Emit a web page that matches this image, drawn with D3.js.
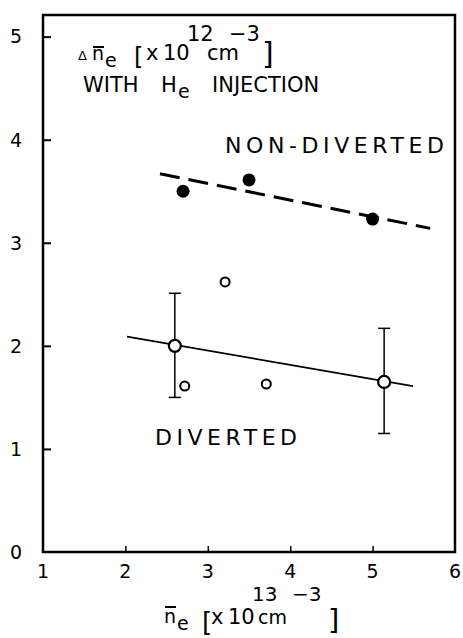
<!DOCTYPE html>
<html>
<head>
<meta charset="utf-8">
<script src="https://cdn.jsdelivr.net/npm/d3@7"></script>
<style>
  html, body { margin: 0; padding: 0; background: #fff; }
  svg { display: block; font-family: "DejaVu Sans", sans-serif; }
</style>
</head>
<body>
<div id="chart"></div>
<script>
// axis ticks
const xTicks = [1, 2, 3, 4, 5, 6];
const yTicks = [0, 1, 2, 3, 4, 5];

// non-diverted (filled dots) and its dashed fit
const nonDivX = [2.7, 3.5, 5.0];
const nonDivY = [3.5, 3.61, 3.23];
const nonDivFitX = [2.42, 5.7];
const nonDivFitY = [3.67, 3.14];

// diverted: averaged points with error bars, single shots, solid fit
const divMeanX = [2.6, 5.14];
const divMeanY = [2.0, 1.65];
const divErrLow = [1.5, 1.15];
const divErrHigh = [2.51, 2.17];
const divShotX = [3.21, 2.72, 3.71];
const divShotY = [2.62, 1.61, 1.63];
const divFitX = [2.02, 5.49];
const divFitY = [2.09, 1.61];

const width = 463, height = 638;
const margin = { top: 15, right: 8, bottom: 86, left: 43 };

const svg = d3.select("#chart").append("svg")
    .attr("width", width)
    .attr("height", height);

const x = d3.scaleLinear().domain([1, 6]).range([margin.left, width - margin.right]);
const y = d3.scaleLinear().domain([0, 5.21]).range([height - margin.bottom, margin.top]);

// frame
svg.append("rect")
    .attr("x", x(1)).attr("y", y(5.21))
    .attr("width", x(6) - x(1)).attr("height", y(0) - y(5.21))
    .attr("fill", "none").attr("stroke", "#000").attr("stroke-width", 2.5);

// inner ticks
svg.append("g")
    .attr("transform", `translate(${x(1)},0)`)
    .call(d3.axisRight(y).tickValues(yTicks.slice(1)).tickSize(8).tickFormat(""))
    .call(g => g.select(".domain").remove())
    .selectAll("line").attr("stroke-width", 2);

svg.append("g")
    .attr("transform", `translate(0,${y(0)})`)
    .call(d3.axisTop(x).tickValues(xTicks.slice(1, -1)).tickSize(6).tickFormat(""))
    .call(g => g.select(".domain").remove())
    .selectAll("line").attr("stroke-width", 1.5);

// tick labels
svg.append("g").selectAll("text")
    .data(yTicks).enter().append("text")
    .attr("x", 16)
    .attr("y", d => y(d))
    .attr("dy", "0.36em")
    .attr("text-anchor", "middle")
    .attr("font-size", 19)
    .text(d => d);

svg.append("g").selectAll("text")
    .data(xTicks).enter().append("text")
    .attr("x", d => x(d))
    .attr("y", 578)
    .attr("text-anchor", "middle")
    .attr("font-size", 19)
    .text(d => d);

// fit lines
const line = d3.line().x(d => x(d[0])).y(d => y(d[1]));

svg.append("path")
    .datum(d3.zip(nonDivFitX, nonDivFitY))
    .attr("d", line)
    .attr("fill", "none").attr("stroke", "#000")
    .attr("stroke-width", 3)
    .attr("stroke-dasharray", "20,9");

svg.append("path")
    .datum(d3.zip(divFitX, divFitY))
    .attr("d", line)
    .attr("fill", "none").attr("stroke", "#000")
    .attr("stroke-width", 1.8);

// error bars
const err = d3.zip(divMeanX, divErrLow, divErrHigh);
const eb = svg.append("g").attr("stroke", "#000").attr("stroke-width", 1.5);
eb.selectAll(".v").data(err).enter().append("line")
    .attr("x1", d => x(d[0])).attr("x2", d => x(d[0]))
    .attr("y1", d => y(d[1])).attr("y2", d => y(d[2]));
eb.selectAll(".lo").data(err).enter().append("line")
    .attr("x1", d => x(d[0]) - 6).attr("x2", d => x(d[0]) + 6)
    .attr("y1", d => y(d[1])).attr("y2", d => y(d[1]));
eb.selectAll(".hi").data(err).enter().append("line")
    .attr("x1", d => x(d[0]) - 6).attr("x2", d => x(d[0]) + 6)
    .attr("y1", d => y(d[2])).attr("y2", d => y(d[2]));

// points
svg.append("g").selectAll("circle")
    .data(d3.zip(divMeanX, divMeanY)).enter().append("circle")
    .attr("cx", d => x(d[0])).attr("cy", d => y(d[1]))
    .attr("r", 6)
    .attr("fill", "#fff").attr("stroke", "#000").attr("stroke-width", 2.2);

svg.append("g").selectAll("circle")
    .data(d3.zip(divShotX, divShotY)).enter().append("circle")
    .attr("cx", d => x(d[0])).attr("cy", d => y(d[1]))
    .attr("r", 4.5)
    .attr("fill", "#fff").attr("stroke", "#000").attr("stroke-width", 2);

svg.append("g").selectAll("circle")
    .data(d3.zip(nonDivX, nonDivY)).enter().append("circle")
    .attr("cx", d => x(d[0])).attr("cy", d => y(d[1]))
    .attr("r", 6.5)
    .attr("fill", "#000");

// series labels
svg.append("text")
    .attr("x", 225).attr("y", 153)
    .attr("font-size", 22)
    .attr("textLength", 219).attr("lengthAdjust", "spacing")
    .text("NON-DIVERTED");

svg.append("text")
    .attr("x", 155).attr("y", 445)
    .attr("font-size", 22)
    .attr("textLength", 142).attr("lengthAdjust", "spacing")
    .text("DIVERTED");

// y-axis title, inside the plot
const t = svg.append("g").attr("font-size", 21);
t.append("text").attr("x", 78).attr("y", 60).attr("font-size", 13).text("Δ");
t.append("text").attr("x", 92).attr("y", 60).attr("font-size", 19).text("n");
t.append("line").attr("x1", 93).attr("x2", 104).attr("y1", 47).attr("y2", 47)
    .attr("stroke", "#000").attr("stroke-width", 2);
t.append("text").attr("x", 105).attr("y", 67).attr("font-size", 19).text("e");
t.append("text").attr("x", 134).attr("y", 65).attr("font-size", 24).text("[");
t.append("text").attr("x", 146).attr("y", 60).text("x");
t.append("text").attr("x", 163).attr("y", 60).text("10");
t.append("text").attr("x", 207).attr("y", 60).text("cm");
t.append("text").attr("x", 187).attr("y", 41).text("12");
t.append("text").attr("x", 229).attr("y", 41).text("−3");
t.append("text").attr("x", 262).attr("y", 64).attr("font-size", 30).text("]");
t.append("text").attr("x", 83).attr("y", 92).text("WITH");
t.append("text").attr("x", 161).attr("y", 92).text("H");
t.append("text").attr("x", 178).attr("y", 98).attr("font-size", 19).text("e");
t.append("text").attr("x", 212).attr("y", 92).text("INJECTION");

// x-axis title
const b = svg.append("g").attr("font-size", 21);
b.append("text").attr("x", 164).attr("y", 623).attr("font-size", 19).text("n");
b.append("line").attr("x1", 165).attr("x2", 176).attr("y1", 607).attr("y2", 607)
    .attr("stroke", "#000").attr("stroke-width", 2);
b.append("text").attr("x", 177).attr("y", 630).attr("font-size", 19).text("e");
b.append("text").attr("x", 202).attr("y", 631).attr("font-size", 26).text("[");
b.append("text").attr("x", 211).attr("y", 624).text("x");
b.append("text").attr("x", 228).attr("y", 624).text("10");
b.append("text").attr("x", 258).attr("y", 624).attr("font-size", 19).text("cm");
b.append("text").attr("x", 252).attr("y", 601).attr("font-size", 20).text("13");
b.append("text").attr("x", 292).attr("y", 601).attr("font-size", 20).text("−3");
b.append("text").attr("x", 328).attr("y", 630).attr("font-size", 29).text("]");
</script>
</body>
</html>
